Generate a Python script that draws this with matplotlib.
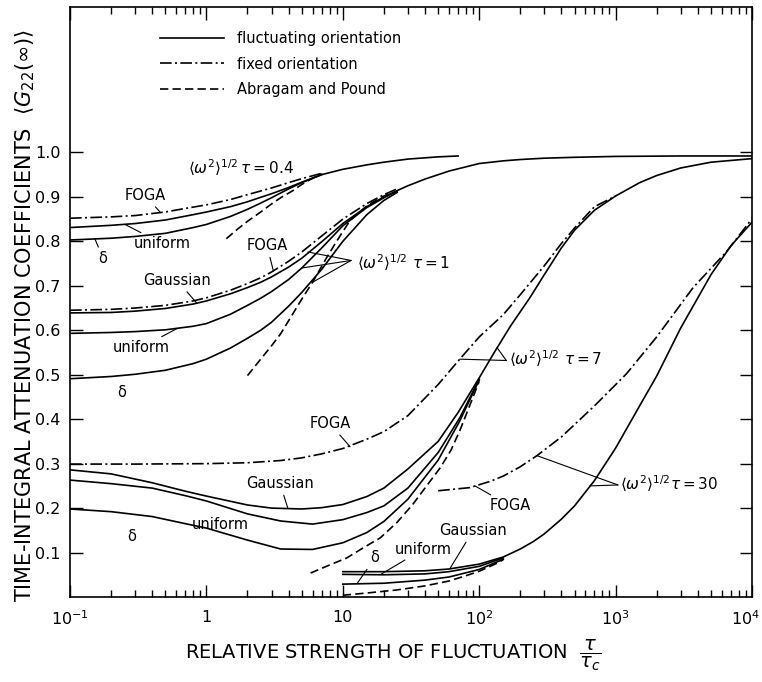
import numpy as np
import matplotlib
matplotlib.use("Agg")
import matplotlib.pyplot as plt
import matplotlib.transforms as mtransforms
from matplotlib.lines import Line2D


# ===== data =====
# <w^2>^1/2 tau = 0.4
x04_foga = [0.1, 0.2, 0.3, 0.5, 0.7, 1, 1.5, 2, 3, 4, 5, 7]
y04_foga = [0.852, 0.855, 0.858, 0.866, 0.874, 0.882, 0.894, 0.905, 0.920, 0.932, 0.941, 0.953]
x04_unif = [0.1, 0.2, 0.3, 0.5, 0.8, 1, 1.5, 2, 2.5, 3, 4, 5, 7, 10, 15, 20, 30, 50, 70]
y04_unif = [0.831, 0.836, 0.840, 0.848, 0.860, 0.866, 0.878, 0.889, 0.899, 0.907, 0.921,
            0.933, 0.950, 0.962, 0.972, 0.978, 0.985, 0.990, 0.992]
x04_delta = [0.1, 0.2, 0.3, 0.5, 0.8, 1, 1.5, 2, 2.5, 3, 4, 5, 7]
y04_delta = [0.803, 0.807, 0.811, 0.818, 0.831, 0.838, 0.856, 0.872, 0.886, 0.898, 0.918,
             0.932, 0.950]
x04_ap = [1.4, 1.7, 2, 2.5, 3, 3.5, 4.3, 5, 6, 7]
y04_ap = [0.806, 0.828, 0.845, 0.866, 0.884, 0.898, 0.914, 0.928, 0.942, 0.952]

# <w^2>^1/2 tau = 1
x1_foga = [0.1, 0.2, 0.3, 0.5, 0.8, 1, 1.5, 2, 2.5, 3, 4, 5, 7, 10, 15, 20, 25]
y1_foga = [0.645, 0.647, 0.650, 0.656, 0.666, 0.673, 0.690, 0.705, 0.718, 0.731, 0.755,
           0.776, 0.812, 0.850, 0.885, 0.905, 0.918]
x1_gauss = [0.1, 0.2, 0.3, 0.5, 0.8, 1, 1.5, 2, 2.5, 3, 4, 5, 7, 10, 15, 20, 25, 30, 40,
            60, 100, 150, 200, 300, 500, 1000, 3000, 10000]
y1_gauss = [0.639, 0.640, 0.643, 0.649, 0.659, 0.666, 0.682, 0.696, 0.708, 0.720, 0.742,
            0.762, 0.799, 0.840, 0.878, 0.900, 0.914, 0.925, 0.940, 0.958, 0.975, 0.981,
            0.984, 0.987, 0.989, 0.991, 0.992, 0.992]
x1_unif = [0.1, 0.2, 0.3, 0.5, 0.8, 1, 1.5, 2, 2.5, 3, 4, 5, 7, 10, 15, 20, 25]
y1_unif = [0.593, 0.595, 0.597, 0.601, 0.609, 0.615, 0.636, 0.656, 0.672, 0.687, 0.714,
           0.740, 0.785, 0.835, 0.876, 0.898, 0.913]
x1_delta = [0.1, 0.2, 0.3, 0.5, 0.8, 1, 1.5, 2, 2.5, 3, 4, 5, 7, 10, 15, 20, 25]
y1_delta = [0.491, 0.496, 0.501, 0.510, 0.525, 0.535, 0.560, 0.582, 0.600, 0.618, 0.654,
            0.685, 0.737, 0.800, 0.860, 0.892, 0.910]
x1_ap = [2.0, 2.5, 3, 3.5, 4.3, 5, 6, 7.6, 9, 11.3, 15, 20, 25]
y1_ap = [0.498, 0.535, 0.565, 0.592, 0.637, 0.670, 0.708, 0.763, 0.800, 0.847, 0.880,
         0.902, 0.913]

# <w^2>^1/2 tau = 7
x7_foga = [0.1, 0.3, 1, 2, 3.5, 5, 7, 10, 15, 20, 30, 50, 72, 100, 150, 200, 300, 400,
           500, 700, 1000]
y7_foga = [0.299, 0.299, 0.300, 0.302, 0.307, 0.313, 0.322, 0.334, 0.355, 0.372, 0.408,
           0.478, 0.535, 0.585, 0.635, 0.680, 0.745, 0.795, 0.830, 0.878, 0.902]
x7_gauss = [0.1, 0.2, 0.4, 0.7, 1, 2, 3, 5, 7, 10, 15, 20, 30, 50, 70, 100, 130, 170, 235,
            300, 400, 500, 700, 1000, 1500, 2000, 3000, 5000, 10000]
y7_gauss = [0.286, 0.277, 0.257, 0.238, 0.227, 0.207, 0.200, 0.198, 0.201, 0.208, 0.226,
            0.245, 0.288, 0.350, 0.415, 0.493, 0.552, 0.610, 0.673, 0.725, 0.785, 0.825,
            0.870, 0.902, 0.932, 0.948, 0.965, 0.978, 0.986]
x7_unif = [0.1, 0.2, 0.4, 0.7, 1, 2, 3.5, 6, 10, 15, 20, 30, 50, 72, 100]
y7_unif = [0.263, 0.255, 0.245, 0.228, 0.216, 0.187, 0.171, 0.164, 0.174, 0.190, 0.205,
           0.245, 0.325, 0.403, 0.490]
x7_delta = [0.1, 0.2, 0.4, 0.7, 1, 2, 3.5, 6, 10, 15, 20, 30, 50, 72, 100]
y7_delta = [0.198, 0.192, 0.181, 0.165, 0.155, 0.128, 0.108, 0.107, 0.122, 0.145, 0.170,
            0.220, 0.308, 0.396, 0.488]
x7_ap = [5.8, 8, 10.7, 14, 18.8, 25, 32.7, 40, 51.6, 62, 72, 85, 100]
y7_ap = [0.054, 0.072, 0.088, 0.110, 0.133, 0.168, 0.209, 0.245, 0.290, 0.330, 0.374,
         0.430, 0.485]

# <w^2>^1/2 tau = 30
x30_foga = [50, 85, 120, 150, 200, 265, 400, 700, 1200, 2000, 3700, 6600, 10000]
y30_foga = [0.239, 0.246, 0.260, 0.272, 0.293, 0.318, 0.360, 0.430, 0.502, 0.585, 0.696,
            0.779, 0.851]
x30_gauss = [10, 20, 40, 60, 100, 150, 200, 250, 300, 400, 500, 700, 1000, 1500, 2000,
             3000, 5000, 7000, 10000]
y30_gauss = [0.057, 0.057, 0.059, 0.063, 0.074, 0.090, 0.108, 0.125, 0.142, 0.175, 0.205,
             0.262, 0.335, 0.430, 0.497, 0.605, 0.725, 0.790, 0.843]
x30_unif = [10, 20, 40, 60, 100, 150]
y30_unif = [0.051, 0.050, 0.052, 0.057, 0.069, 0.088]
x30_delta = [10, 20, 40, 60, 100, 150]
y30_delta = [0.029, 0.031, 0.038, 0.045, 0.062, 0.085]
x30_ap = [10, 15, 25, 40, 60, 80, 100, 135, 150]
y30_ap = [0.004, 0.009, 0.016, 0.025, 0.036, 0.048, 0.058, 0.076, 0.084]

xticks = [0.1, 1, 10, 100, 1000, 10000]
xtick_labels = ["$10^{-1}$", "1", "10", "$10^{2}$", "$10^{3}$", "$10^{4}$"]
yticks = [0.1, 0.2, 0.3, 0.4, 0.5, 0.6, 0.7, 0.8, 0.9, 1.0]
ytick_labels = ["0.1", "0.2", "0.3", "0.4", "0.5", "0.6", "0.7", "0.8", "0.9", "1.0"]


# ===== styles =====
lw = 1.2
solid = dict(color="black", lw=lw, ls="-")
dashdot = dict(color="black", lw=lw, ls=(0, (7, 2, 1.2, 2)))
dashed = dict(color="black", lw=lw, ls=(0, (5, 2.5)))

fig = plt.figure(figsize=(7.62, 6.82), dpi=100)
ax = fig.add_axes([0.0919, 0.1246, 0.8950, 0.8651])

# ---- curves ----
for xs, ys in [(x04_unif, y04_unif), (x04_delta, y04_delta),
               (x1_gauss, y1_gauss), (x1_unif, y1_unif), (x1_delta, y1_delta),
               (x7_gauss, y7_gauss), (x7_unif, y7_unif), (x7_delta, y7_delta),
               (x30_gauss, y30_gauss), (x30_unif, y30_unif), (x30_delta, y30_delta)]:
    ax.plot(xs, ys, **solid)

for xs, ys in [(x04_foga, y04_foga), (x1_foga, y1_foga), (x7_foga, y7_foga),
               (x30_foga, y30_foga)]:
    ax.plot(xs, ys, **dashdot)

for xs, ys in [(x04_ap, y04_ap), (x1_ap, y1_ap), (x7_ap, y7_ap), (x30_ap, y30_ap)]:
    ax.plot(xs, ys, **dashed)

# ---- axes ----
ax.set_xscale("log")
ax.set_xlim(0.1, 1e4)
ax.set_ylim(0, 1.327)
ax.set_xticks(xticks)
ax.set_xticklabels(xtick_labels)
ax.set_yticks(yticks)
ax.set_yticklabels(ytick_labels)
ax.tick_params(which="both", direction="in", top=True, right=True, width=1,
               labelsize=11.5)
ax.tick_params(which="major", length=9)
ax.tick_params(which="minor", length=5)
ax.tick_params(axis="x", pad=9)
ax.tick_params(axis="y", pad=7)
ax.tick_params(axis="y", which="minor", left=False, right=False)
for s in ax.spines.values():
    s.set_linewidth(1.2)

# last x label sits on the figure edge, nudge it in a bit
last = ax.get_xticklabels()[-1]
last.set_transform(last.get_transform() +
                   mtransforms.ScaledTranslation(-5 / 72, 0, fig.dpi_scale_trans))

fig.text(393 / 762, 1 - 659 / 682,
         r"RELATIVE STRENGTH OF FLUCTUATION  $\dfrac{\tau}{\tau_c}$",
         ha="center", va="baseline", fontsize=14)
fig.text(0.033, 1 - 316 / 682,
         r"TIME-INTEGRAL ATTENUATION COEFFICIENTS  $\langle G_{22}(\infty)\rangle$",
         rotation=90, ha="center", va="center", fontsize=15)

# ---- legend ----
handles = [Line2D([], [], **solid), Line2D([], [], **dashdot), Line2D([], [], **dashed)]
ax.legend(handles, ["fluctuating orientation", "fixed orientation", "Abragam and Pound"],
          loc="upper left", bbox_to_anchor=(0.132, 0.96), frameon=False, fontsize=10.5,
          handlelength=4.4, handletextpad=0.9, labelspacing=0.75, borderpad=0,
          borderaxespad=0)


# ===== labels =====
def note(txt, xy_text, xy_pt=None, size=10.5):
    if xy_pt is None:
        ax.text(*xy_text, txt, ha="center", va="center", fontsize=size)
    else:
        ax.annotate(txt, xy=xy_pt, xytext=xy_text, ha="center", va="center",
                    fontsize=size,
                    arrowprops=dict(arrowstyle="-", lw=0.8, shrinkA=1, shrinkB=0))


def pointer(start, end):
    ax.annotate("", xy=end, xytext=start,
                arrowprops=dict(arrowstyle="-", lw=0.8, shrinkA=0, shrinkB=0))


ax.text(1.8, 0.966, r"$\langle\omega^2\rangle^{1/2}\,\tau = 0.4$", ha="center",
        va="center", fontsize=11)
note("FOGA", (0.355, 0.903), (0.457, 0.866))
note("uniform", (0.473, 0.795), (0.253, 0.838))
note("δ", (0.175, 0.761), (0.152, 0.806))

note("FOGA", (2.78, 0.79), (3.1, 0.733))
note("Gaussian", (0.61, 0.712), (0.85, 0.661))
note("uniform", (0.332, 0.561), (0.61, 0.604))
note("δ", (0.24, 0.459))
ax.text(12.7, 0.752, r"$\langle\omega^2\rangle^{1/2}\ \tau = 1$", ha="left", va="center",
        fontsize=11)
pointer((11.5, 0.757), (5.56, 0.776))
pointer((11.5, 0.757), (5.0, 0.740))
pointer((11.5, 0.757), (6.0, 0.708))

note("FOGA", (8.05, 0.39), (11.3, 0.338))
note("Gaussian", (3.47, 0.255), (3.96, 0.199))
note("uniform", (1.26, 0.162), (2.2, 0.184))
note("δ", (0.285, 0.137))
ax.text(165, 0.536, r"$\langle\omega^2\rangle^{1/2}\ \tau = 7$", ha="left", va="center",
        fontsize=11)
pointer((158, 0.532), (72, 0.535))
pointer((158, 0.532), (135, 0.561))

note("FOGA", (168, 0.205), (93, 0.25))
note("Gaussian", (90, 0.149), (61, 0.064))
note("uniform", (39, 0.108), (19, 0.051))
note("δ", (17.2, 0.088), (12.7, 0.030))
ax.text(1080, 0.255, r"$\langle\omega^2\rangle^{1/2}\tau = 30$", ha="left", va="center",
        fontsize=11)
pointer((1040, 0.252), (265, 0.318))
pointer((1040, 0.252), (650, 0.250))

fig.savefig("out.png", dpi=100)
